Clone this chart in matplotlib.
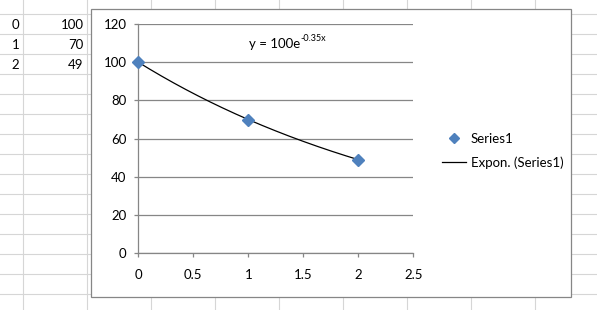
import numpy as np
import matplotlib
matplotlib.use("Agg")
import matplotlib.pyplot as plt
from matplotlib.patches import Rectangle
from matplotlib.lines import Line2D

# data from the sheet
x_vals = [0, 1, 2]
y_vals = [100, 70, 49]
series_name = "Series1"
trend_name = "Expon. (Series1)"
eq_main = "y = 100e"
eq_exp = "-0.35x"
x_ticks = [0, 0.5, 1, 1.5, 2, 2.5]
y_ticks = [0, 20, 40, 60, 80, 100, 120]

plt.rcParams['font.family'] = ['Lato', 'DejaVu Sans']
FS = 9.5
W, H = 597, 310

fig = plt.figure(figsize=(W / 100, H / 100), dpi=100)

# spreadsheet background in pixel coords
bg = fig.add_axes([0, 0, 1, 1])
bg.set_xlim(0, W)
bg.set_ylim(H, 0)
bg.axis("off")
grid_c = "#d6d6d6"
for yy in np.arange(13.5, H, 20):
    bg.axhline(yy, color=grid_c, lw=0.8)
for xx in np.arange(22.7, W, 64):
    bg.axvline(xx, color=grid_c, lw=0.8)
for i, (a, b) in enumerate(zip(x_vals, y_vals)):
    bg.text(19.5, 25 + 20 * i, str(a), ha="right", va="center", fontsize=FS)
    bg.text(83.5, 25 + 20 * i, str(b), ha="right", va="center", fontsize=FS)

# chart frame
bg.add_patch(Rectangle((91, 9), 480, 288, facecolor="white",
                       edgecolor="#868686", lw=0.9, zorder=5))

# plot area
l, r, t, b = 138.3, 413.3, 24, 253.3
ax = fig.add_axes([l / W, 1 - b / H, (r - l) / W, (b - t) / H])
ax.set_zorder(10)
ax.patch.set_alpha(0)
ax.set_xlim(0, 2.5)
ax.set_ylim(0, 120)
ax.set_xticks(x_ticks)
ax.set_xticklabels([f"{v:g}" for v in x_ticks])
ax.set_yticks(y_ticks)
ax_c = "#868686"
for s in ["top", "right"]:
    ax.spines[s].set_visible(False)
for s in ["left", "bottom"]:
    ax.spines[s].set_color(ax_c)
    ax.spines[s].set_linewidth(0.9)
ax.tick_params(axis="both", direction="out", length=3, width=0.9,
               color=ax_c, labelsize=FS)
ax.tick_params(axis="y", pad=5.5)
ax.tick_params(axis="x", pad=8)
ax.grid(axis="y", color=ax_c, lw=0.9)
ax.set_axisbelow(True)

# exponential trendline (log-linear fit like Excel)
k, c = np.polyfit(x_vals, np.log(y_vals), 1)
xs = np.linspace(min(x_vals), max(x_vals), 200)
ax.plot(xs, np.exp(c) * np.exp(k * xs), color="black", lw=0.9, zorder=3)
ax.plot(x_vals, y_vals, linestyle="none", marker="D", markersize=6,
        color="#4f81bd", clip_on=False, zorder=4)

t1 = ax.text(1.005, 107.5, eq_main, fontsize=FS, ha="left", va="baseline")
ax.annotate(eq_exp, xy=(1, 0.55), xycoords=t1, fontsize=6.5, ha="left",
            va="bottom")

handles = [Line2D([], [], linestyle="none", marker="D", markersize=5,
                  color="#4f81bd"),
           Line2D([], [], color="black", lw=0.9)]
fig.legend(handles, [series_name, trend_name], loc="upper left",
           bbox_to_anchor=(442 / W, 1 - 133 / H), frameon=False,
           fontsize=FS, handlelength=1.85, handletextpad=0.35,
           labelspacing=0.85, borderpad=0, borderaxespad=0)

fig.savefig("out.png", dpi=100)
